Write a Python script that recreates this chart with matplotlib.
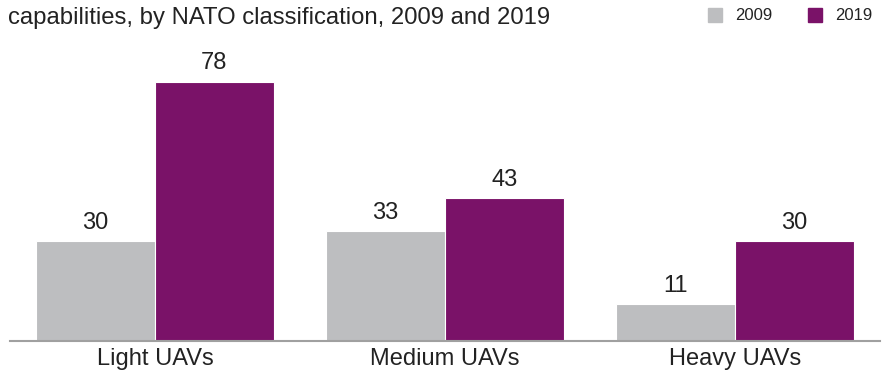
import matplotlib
matplotlib.use("Agg")
import matplotlib.pyplot as plt
import numpy as np

categories = ["Light UAVs", "Medium UAVs", "Heavy UAVs"]
values_2009 = [30, 33, 11]
values_2019 = [78, 43, 30]
series_labels = ["2009", "2019"]
title = "capabilities, by NATO classification, 2009 and 2019"

c2009 = "#BDBEC0"
c2019 = "#7A1268"

plt.rcParams['font.family'] = ['Liberation Sans', 'DejaVu Sans']

fig = plt.figure(figsize=(8.85, 3.75), dpi=100)
ax = fig.add_axes([0.0, 0.0907, 1.0, 0.776])

x = np.arange(len(categories))
w = 0.41
b1 = ax.bar(x - w / 2, values_2009, w, color=c2009, edgecolor="white", linewidth=0.8)
b2 = ax.bar(x + w / 2, values_2019, w, color=c2019, edgecolor="white", linewidth=0.8)

for bars, vals in ((b1, values_2009), (b2, values_2019)):
    for rect, v in zip(bars, vals):
        ax.annotate(str(v), (rect.get_x() + rect.get_width() / 2, v),
                    xytext=(0, 5.5), textcoords="offset points",
                    ha="center", va="bottom", fontsize=17, color="#222222")

ax.set_xlim(-0.534, 2.517)
ax.set_ylim(0, 87.6)
ax.set_xticks(x)
ax.set_xticklabels(categories, fontsize=17, color="#222222")
ax.tick_params(axis="x", length=0, pad=5)
ax.set_yticks([])
for s in ("top", "right", "left"):
    ax.spines[s].set_visible(False)
ax.spines["bottom"].set_color("#A0A0A0")
ax.spines["bottom"].set_linewidth(1.5)
ax.spines["bottom"].set_bounds(-0.5, 2.5)

fig.text(8 / 885, 1 - 18 / 375, title, fontsize=17.2, color="#222222",
         ha="left", va="center")

# legend
for i, (lab, col) in enumerate(zip(series_labels, [c2009, c2019])):
    x0 = [708, 808][i]
    fig.patches.append(plt.Rectangle((x0 / 885, 1 - 22 / 375), 14 / 885, 14 / 375,
                                     transform=fig.transFigure, color=col))
    fig.text((x0 + 27) / 885, 1 - 15 / 375, lab, fontsize=12, color="#222222",
             ha="left", va="center")

fig.savefig("out.png", dpi=100)
